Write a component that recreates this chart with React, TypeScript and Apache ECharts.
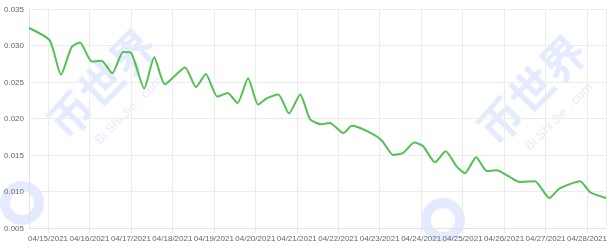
import React, { useEffect, useRef } from "react";
import * as echarts from "echarts";

const times: string[] = [
  "2021-04-14 13:00", "2021-04-15 01:00", "2021-04-15 07:30", "2021-04-15 13:40", "2021-04-15 18:30",
  "2021-04-16 01:20", "2021-04-16 07:00", "2021-04-16 13:10", "2021-04-16 19:30", "2021-04-17 00:00",
  "2021-04-17 07:40", "2021-04-17 13:30", "2021-04-17 19:40", "2021-04-18 07:20", "2021-04-18 13:40",
  "2021-04-18 19:20", "2021-04-19 02:00", "2021-04-19 08:00", "2021-04-19 13:40", "2021-04-19 19:50",
  "2021-04-20 01:40", "2021-04-20 06:50", "2021-04-20 13:20", "2021-04-20 19:30", "2021-04-21 02:00",
  "2021-04-21 07:40", "2021-04-21 14:20", "2021-04-21 19:10", "2021-04-22 03:00", "2021-04-22 07:50",
  "2021-04-22 17:20", "2021-04-23 01:10", "2021-04-23 07:50", "2021-04-23 13:40", "2021-04-23 20:00",
  "2021-04-24 01:10", "2021-04-24 08:00", "2021-04-24 14:10", "2021-04-24 20:40", "2021-04-25 01:20",
  "2021-04-25 07:50", "2021-04-25 14:00", "2021-04-25 19:40", "2021-04-26 02:30", "2021-04-26 09:10",
  "2021-04-26 17:50", "2021-04-27 02:10", "2021-04-27 08:00", "2021-04-27 20:00", "2021-04-28 01:50",
  "2021-04-28 11:00",
];

const values: number[] = [
  0.0324, 0.0307, 0.0260, 0.0298, 0.0304,
  0.0278, 0.0279, 0.0262, 0.0291, 0.0290,
  0.0241, 0.0284, 0.0247, 0.0270, 0.0243,
  0.0261, 0.0230, 0.0235, 0.0221, 0.0255,
  0.0219, 0.0228, 0.0233, 0.0207, 0.0233,
  0.0199, 0.0192, 0.0194, 0.0180, 0.0190,
  0.0182, 0.0170, 0.0150, 0.0153, 0.0167,
  0.0162, 0.0140, 0.0155, 0.0134, 0.0125,
  0.0147, 0.0128, 0.0129, 0.0121, 0.0113,
  0.0114, 0.0091, 0.0104, 0.0114, 0.0099,
  0.0091,
];

const yTicks = { min: 0.005, max: 0.035, step: 0.005 };

const toMs = (s: string) => new Date(s.replace(" ", "T") + ":00").getTime();
const pad = (n: number) => (n < 10 ? "0" + n : "" + n);

export default function App() {
  const ref = useRef<HTMLDivElement>(null);
  useEffect(() => {
    if (!ref.current) return;
    const chart = echarts.init(ref.current, undefined, { renderer: "svg" });
    const data = times.map((t, i) => [toMs(t), values[i]]);
    const wmColor = "rgba(80,120,245,0.15)";
    const watermark = (cx: number, cy: number, rx: number, ry: number) => [
      {
        type: "group",
        x: cx,
        y: cy,
        rotation: Math.PI / 4,
        z: 0,
        silent: true,
        children: [
          {
            type: "text",
            x: 0,
            y: 0,
            style: {
              text: "币世界",
              fill: wmColor,
              fontSize: 44,
              fontWeight: "bold",
              fontFamily: "Noto Sans CJK SC",
              align: "center",
              verticalAlign: "middle",
            },
          },
          {
            type: "text",
            x: 0,
            y: 40,
            style: {
              text: "Bi Shi Jie . com",
              fill: wmColor,
              fontSize: 13,
              fontFamily: "Liberation Sans",
              align: "center",
              verticalAlign: "middle",
            },
          },
        ],
      },
      {
        type: "ring",
        z: 0,
        silent: true,
        shape: { cx: rx, cy: ry, r: 22, r0: 12 },
        style: { fill: wmColor },
      },
    ];
    chart.setOption({
      animation: false,
      textStyle: { fontFamily: "Liberation Sans, Arial, sans-serif" },
      grid: { left: 29, right: 8, top: 9, bottom: 24 },
      graphic: [...watermark(100, 82, 22, 203), ...watermark(530, 88, 443, 220)],
      xAxis: {
        type: "time",
        min: data[0][0],
        max: data[data.length - 1][0],
        minInterval: 86400000,
        maxInterval: 86400000,
        axisLine: { show: true, lineStyle: { color: "#e3e3e3" } },
        axisTick: { show: true, length: 5, lineStyle: { color: "#e3e3e3" } },
        splitLine: { show: true, lineStyle: { color: "#ececec" } },
        axisLabel: {
          interval: 0,
          color: "#666",
          fontSize: 8,
          margin: 6,
          hideOverlap: false,
          formatter: (v: number) => {
            const d = new Date(v);
            return pad(d.getMonth() + 1) + "/" + pad(d.getDate()) + "/" + d.getFullYear();
          },
        },
      },
      yAxis: {
        type: "value",
        min: yTicks.min,
        max: yTicks.max,
        interval: yTicks.step,
        axisLine: { show: true, lineStyle: { color: "#e3e3e3" } },
        axisTick: { show: false },
        splitLine: { show: true, lineStyle: { color: "#ececec" } },
        axisLabel: {
          color: "#666",
          fontSize: 8,
          margin: 5,
          formatter: (v: number) => v.toFixed(3),
        },
      },
      series: [
        {
          type: "line",
          data,
          smooth: 0.2,
          symbol: "none",
          z: 3,
          lineStyle: { color: "#52c152", width: 2 },
        },
      ],
    });
    return () => chart.dispose();
  }, []);
  return (
    <div
      ref={ref}
      style={{ position: "fixed", left: 0, top: 0, width: 614, height: 252 }}
    />
  );
}
